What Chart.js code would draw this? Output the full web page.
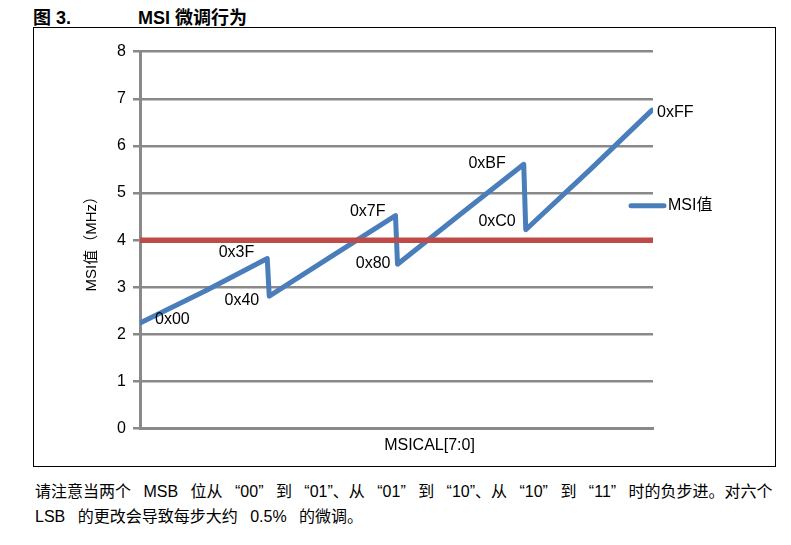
<!DOCTYPE html>
<html>
<head>
<meta charset="utf-8">
<script src="https://cdn.jsdelivr.net/npm/chart.js@4.4.1/dist/chart.umd.min.js"></script>
<style>
  body { margin: 0; background: #fff; width: 791px; height: 545px; position: relative; overflow: hidden;
         font-family: "Liberation Sans", "Noto Sans CJK SC", sans-serif; color: #000; }
  .fig { position: absolute; top: 8px; font-size: 18px; line-height: 20px; font-weight: bold; white-space: nowrap; }
  #box { position: absolute; left: 33px; top: 27px; width: 743px; height: 440px; border: 1.5px solid #000; box-sizing: border-box; }
  #wrap { position: absolute; left: 34px; top: 28px; width: 741px; height: 438px; }
  .note { position: absolute; left: 35px; top: 479px; font-size: 16px; line-height: 25px; white-space: nowrap; word-spacing: 8px; }
</style>
</head>
<body>
<div class="fig" style="left:33px">图 3.</div>
<div class="fig" style="left:138px">MSI 微调行为</div>
<div id="box"></div>
<div id="wrap"><canvas id="msiChart" width="741" height="438"></canvas></div>
<div class="note">请注意当两个 MSB 位从 “00” 到 “01”、从 “01” 到 “10”、从 “10” 到 “11” 时的负步进。对六个<br>LSB 的更改会导致每步大约 0.5% 的微调。</div>

<script>
  // MSICAL 码值 / 对应的 MSI 频率 (MHz)
  const msiCodes  = [0x00, 0x20, 0x3F, 0x40, 0x60, 0x7F, 0x80, 0xA0, 0xBF, 0xC0, 0xE0, 0xFF];
  const msiValues = [2.25, 2.92, 3.61, 2.81, 3.68, 4.52, 3.49, 4.57, 5.61, 4.22, 5.49, 6.76];

  // 4 MHz 参考线
  const refValue = 4;

  // 点标注
  const labelCodes = [0x00, 0x3F, 0x40, 0x7F, 0x80, 0xBF, 0xC0, 0xFF];
  const labelTexts = ['0x00', '0x3F', '0x40', '0x7F', '0x80', '0xBF', '0xC0', '0xFF'];

  const yTicks = [0, 1, 2, 3, 4, 5, 6, 7, 8];
  const seriesName = 'MSI值';
  const yTitle = 'MSI值（MHz）';
  const xTitle = 'MSICAL[7:0]';

  const BLUE = '#4A7EBB';
  const RED = '#BE4B48';
  const GRID = '#898989';
  const FONT = '"Liberation Sans", "Noto Sans CJK SC", sans-serif';
  const xMin = -0.5, xMax = 255.5;

  // dx, dy, 对齐
  const labelOffsets = [
    [14, -3, 'left'],
    [-13, -6, 'right'],
    [-10, 4, 'right'],
    [-10, -4, 'right'],
    [-7, -1, 'right'],
    [-18, -1, 'right'],
    [-10, -8, 'right'],
    [5, 2, 'left']
  ];

  const annotate = {
    id: 'annotate',
    afterDatasetsDraw(chart) {
      const { ctx, chartArea, scales: { x, y } } = chart;
      ctx.save();
      ctx.font = '16px ' + FONT;
      ctx.fillStyle = '#000';
      ctx.textBaseline = 'middle';

      labelCodes.forEach((code, i) => {
        const v = msiValues[msiCodes.indexOf(code)];
        const o = labelOffsets[i];
        ctx.textAlign = o[2];
        ctx.fillText(labelTexts[i], x.getPixelForValue(code) + o[0], y.getPixelForValue(v) + o[1]);
      });

      // x 轴标题
      ctx.textAlign = 'center';
      ctx.fillText(xTitle, (chartArea.left + chartArea.right) / 2 + 33, chartArea.bottom + 17);

      // 图例
      const ds = chart.data.datasets[1];
      const ly = chartArea.top + 154;
      ctx.strokeStyle = ds.borderColor;
      ctx.lineWidth = 5;
      ctx.lineCap = 'round';
      ctx.beginPath();
      ctx.moveTo(chartArea.right - 22, ly);
      ctx.lineTo(chartArea.right + 11, ly);
      ctx.stroke();
      ctx.textAlign = 'left';
      ctx.fillText(ds.label, chartArea.right + 15, ly);
      ctx.restore();
    }
  };

  const ctx = document.getElementById('msiChart').getContext('2d');
  new Chart(ctx, {
    type: 'line',
    data: {
      datasets: [
        {
          label: '4 MHz',
          data: [{ x: xMin, y: refValue }, { x: xMax, y: refValue }],
          borderColor: RED,
          borderWidth: 5.5,
          pointRadius: 0,
          order: 0
        },
        {
          label: seriesName,
          data: msiCodes.map((c, i) => ({ x: c, y: msiValues[i] })),
          borderColor: BLUE,
          borderWidth: 5,
          borderCapStyle: 'round',
          borderJoinStyle: 'round',
          pointRadius: 0,
          tension: 0,
          order: 1
        }
      ]
    },
    options: {
      responsive: false,
      animation: false,
      layout: { padding: { left: 49, top: 23.7, right: 122, bottom: 29.4 } },
      plugins: {
        legend: { display: false },
        tooltip: { enabled: false }
      },
      scales: {
        x: {
          type: 'linear',
          min: xMin,
          max: xMax,
          ticks: { display: false },
          grid: { display: false },
          border: { display: true, color: GRID, width: 3 }
        },
        y: {
          min: yTicks[0],
          max: yTicks[yTicks.length - 1],
          afterBuildTicks: (s) => { s.ticks = yTicks.map(v => ({ value: v })); },
          afterFit: (s) => { s.width = 57; },
          ticks: { color: '#000', font: { size: 16, family: FONT }, padding: 7 },
          grid: { color: GRID, lineWidth: 2.5, tickLength: 7 },
          border: { color: GRID, width: 3 },
          title: { display: true, text: yTitle, color: '#000', font: { size: 15, family: FONT }, padding: { top: 0, bottom: 0 } }
        }
      }
    },
    plugins: [annotate]
  });
</script>
</body>
</html>
